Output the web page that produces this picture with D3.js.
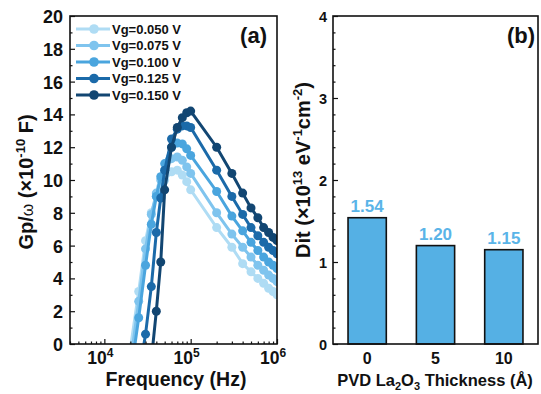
<!DOCTYPE html>
<html lang="en">
<head>
<meta charset="UTF-8">
<title>Gp/w and Dit</title>
<script src="https://d3js.org/d3.v7.min.js"></script>
<style>
  body{margin:0;background:#fff;}
  svg text{font-family:"Liberation Sans",Arial,sans-serif;font-weight:bold;fill:#111;}
</style>
</head>
<body>
<div id="chart"></div>
<script>
// ---- data ----
const freq = [20000,25000,30000,35000,40000,45000,50000,60000,70000,80000,90000,100000,
              200000,300000,400000,500000,600000,700000,800000,900000,1000000];
const vg050 = [-0.3, 3.2, 6.3, 8.0, 9.0, 9.6, 10.0, 10.5, 10.6, 10.3, 9.9, 9.4, 7.1, 5.9, 4.9, 4.4, 4.0, 3.7, 3.4, 3.2, 3.0];
const vg075 = [-1.2, 2.6, 5.8, 7.9, 9.2, 10.0, 10.6, 11.3, 11.4, 11.2, 10.8, 10.4, 8.0, 6.7, 5.9, 5.3, 4.8, 4.5, 4.2, 4.0, 3.8];
const vg100 = [-2.0, 1.6, 4.8, 7.3, 9.0, 10.2, 11.0, 12.0, 12.25, 12.2, 11.9, 11.5, 9.3, 7.8, 6.9, 6.2, 5.7, 5.3, 5.0, 4.8, 4.6];
const vg125 = [-5.0, -2.0, 0.6, 3.5, 6.8, 8.9, 10.6, 12.5, 13.1, 13.3, 13.3, 13.2, 10.6, 9.0, 7.9, 7.1, 6.6, 6.2, 5.9, 5.7, 5.5];
const vg150 = [-8.0, -5.0, -3.0, -1.0, 2.0, 5.0, 9.4, 12.0, 13.2, 13.8, 14.1, 14.2, 12.0, 10.4, 9.2, 8.3, 7.7, 7.1, 6.8, 6.5, 6.3];
const seriesNames = ["Vg=0.050 V","Vg=0.075 V","Vg=0.100 V","Vg=0.125 V","Vg=0.150 V"];
const seriesVals = [vg050, vg075, vg100, vg125, vg150];
const gpTicks = [0,2,4,6,8,10,12,14,16,18,20];
const freqTicks = [1e4,1e5,1e6];

const thickness = ["0","5","10"];
const dit = [1.54, 1.20, 1.15];
const ditLabels = ["1.54","1.20","1.15"];
const ditTicks = [0,1,2,3,4];

// ---- styling ----
const colors = ["#afdcf4","#7fc4ee","#4aa5de","#1b6aa9","#124672"];
const W = 541, H = 394;

const svg = d3.select("#chart").append("svg")
  .attr("width", W).attr("height", H);

// ================= panel (a) =================
const A = {l:70, r:277, t:16, b:344};
const x = d3.scaleLog().domain([4000, 1e6]).range([A.l, A.r]);
const y = d3.scaleLinear().domain([0, 20]).range([A.b, A.t]);

svg.append("clipPath").attr("id","clipA")
  .append("rect").attr("x",A.l).attr("y",A.t).attr("width",A.r-A.l).attr("height",A.b-A.t);

const plotA = svg.append("g").attr("clip-path","url(#clipA)");
const line = d3.line().x(d => x(d.f)).y(d => y(d.v));

seriesVals.forEach((vals, i) => {
  const pts = freq.map((f, j) => ({f: f, v: vals[j]}));
  plotA.append("path").datum(pts)
    .attr("d", line)
    .attr("fill","none")
    .attr("stroke", colors[i])
    .attr("stroke-width", 3);
  plotA.selectAll(null).data(pts).join("circle")
    .attr("cx", d => x(d.f)).attr("cy", d => y(d.v))
    .attr("r", 4.5)
    .attr("fill", colors[i]);
});

// y axis (inward ticks)
svg.append("g").attr("transform",`translate(${A.l},0)`)
  .call(d3.axisLeft(y).tickValues(d3.range(1,20,2)).tickSize(-2.5).tickFormat(""))
  .call(g => g.select(".domain").remove());
svg.append("g").attr("transform",`translate(${A.l},0)`)
  .call(d3.axisLeft(y).tickValues(gpTicks).tickSize(-5).tickPadding(7))
  .call(g => g.select(".domain").remove())
  .call(g => g.selectAll("text").style("font-size","18px").attr("dy","0.36em"));

// x axis minor / major ticks
const minorX = [];
[1e3,1e4,1e5].forEach(dec => { for (let k = 2; k <= 9; k++) { const v = dec*k; if (v >= 4000 && v < 1e6) minorX.push(v); } });
svg.append("g").attr("transform",`translate(0,${A.b})`)
  .call(d3.axisBottom(x).tickValues(minorX).tickSize(-2.5).tickFormat(""))
  .call(g => g.select(".domain").remove());
svg.append("g").attr("transform",`translate(0,${A.b})`)
  .call(d3.axisBottom(x).tickValues(freqTicks).tickSize(-5).tickFormat(""))
  .call(g => g.select(".domain").remove());

const xl = svg.append("g").selectAll("text").data(freqTicks).join("text")
  .attr("x", d => x(d) - 4).attr("y", 364)
  .attr("text-anchor","middle").style("font-size","17.5px");
xl.append("tspan").text("10");
xl.append("tspan").attr("dy","-7").style("font-size","12px").text(d => Math.round(Math.log10(d)));

svg.selectAll(".tick line").attr("stroke","#111").attr("stroke-width",1.2);

// frame
svg.append("rect").attr("x",A.l).attr("y",A.t).attr("width",A.r-A.l).attr("height",A.b-A.t)
  .attr("fill","none").attr("stroke","#111").attr("stroke-width",1.6);

// legend
seriesNames.forEach((name, i) => {
  const ly = 29 + i*16.5;
  svg.append("line").attr("x1",76).attr("x2",110).attr("y1",ly).attr("y2",ly)
    .attr("stroke",colors[i]).attr("stroke-width",3);
  svg.append("circle").attr("cx",94).attr("cy",ly).attr("r",4.8).attr("fill",colors[i]);
  svg.append("text").attr("x",112).attr("y",ly+4.5).style("font-size","13px").text(name);
});

svg.append("text").attr("x",267).attr("y",43).attr("text-anchor","end")
  .style("font-size","22px").text("(a)");

svg.append("text").attr("x",176).attr("y",386).attr("text-anchor","middle")
  .style("font-size","19.5px").text("Frequency (Hz)");

const yTitleA = svg.append("text")
  .attr("transform","translate(33,182) rotate(-90)")
  .attr("text-anchor","middle").style("font-size","20px");
yTitleA.append("tspan").text("Gp/");
yTitleA.append("tspan").style("font-weight","normal").style("font-size","16px").text("ω");
yTitleA.append("tspan").text(" (×10");
yTitleA.append("tspan").attr("dy","-8").style("font-size","13px").text("-10");
yTitleA.append("tspan").attr("dy","8").text(" F)");

// ================= panel (b) =================
const B = {l:333, r:538, t:16, b:344};
const xb = d3.scaleBand().domain(thickness).range([B.l, B.r]).paddingInner(0.44).paddingOuter(0.22);
const yb = d3.scaleLinear().domain([0, 4]).range([B.b, B.t]);

svg.append("g").selectAll("rect").data(dit).join("rect")
  .attr("x", (d,i) => xb(thickness[i]))
  .attr("y", d => yb(d))
  .attr("width", xb.bandwidth())
  .attr("height", d => yb(0) - yb(d))
  .attr("fill","#55b0e4").attr("stroke","#111").attr("stroke-width",1.6);

svg.append("g").selectAll("text").data(dit).join("text")
  .attr("x", (d,i) => xb(thickness[i]) + xb.bandwidth()/2)
  .attr("y", d => yb(d) - 6)
  .attr("text-anchor","middle")
  .style("font-size","17px").style("fill","#5ab4e8")
  .text((d,i) => ditLabels[i]);

const minorB = d3.range(0.2, 4, 0.2).filter(v => Math.abs(v - Math.round(v)) > 0.05);
svg.append("g").attr("transform",`translate(${B.l},0)`)
  .call(d3.axisLeft(yb).tickValues(minorB).tickSize(-2.5).tickFormat(""))
  .call(g => g.select(".domain").remove());
svg.append("g").attr("transform",`translate(${B.l},0)`)
  .call(d3.axisLeft(yb).tickValues(ditTicks).tickSize(-5).tickPadding(6).tickFormat(d3.format("d")))
  .call(g => g.select(".domain").remove())
  .call(g => g.selectAll("text").style("font-size","14.5px").attr("dy","0.36em"));

svg.append("g").selectAll("text.xb").data(thickness).join("text")
  .attr("x", d => xb(d) + xb.bandwidth()/2).attr("y", 364)
  .attr("text-anchor","middle").style("font-size","16px").text(d => d);

svg.selectAll(".tick line").attr("stroke","#111").attr("stroke-width",1.2);

svg.append("rect").attr("x",B.l).attr("y",B.t).attr("width",B.r-B.l).attr("height",B.b-B.t)
  .attr("fill","none").attr("stroke","#111").attr("stroke-width",1.6);

svg.append("text").attr("x",535).attr("y",43).attr("text-anchor","end")
  .style("font-size","22px").text("(b)");

const xTitleB = svg.append("text").attr("x",435).attr("y",386)
  .attr("text-anchor","middle").style("font-size","16.5px");
xTitleB.append("tspan").text("PVD La");
xTitleB.append("tspan").attr("dy","4").style("font-size","11px").text("2");
xTitleB.append("tspan").attr("dy","-4").text("O");
xTitleB.append("tspan").attr("dy","4").style("font-size","11px").text("3");
xTitleB.append("tspan").attr("dy","-4").text(" Thickness (Å)");

const yTitleB = svg.append("text")
  .attr("transform","translate(310,170) rotate(-90)")
  .attr("text-anchor","middle").style("font-size","20px");
yTitleB.append("tspan").text("Dit (×10");
yTitleB.append("tspan").attr("dy","-8").style("font-size","13px").text("13");
yTitleB.append("tspan").attr("dy","8").text(" eV");
yTitleB.append("tspan").attr("dy","-8").style("font-size","13px").text("-1");
yTitleB.append("tspan").attr("dy","8").text("cm");
yTitleB.append("tspan").attr("dy","-8").style("font-size","13px").text("-2");
yTitleB.append("tspan").attr("dy","8").text(")");
</script>
</body>
</html>
